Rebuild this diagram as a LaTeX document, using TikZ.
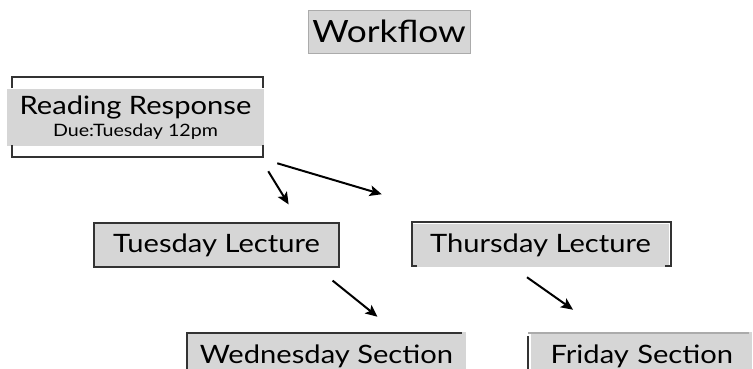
\documentclass[tikz,border=0pt]{standalone}
\usepackage{fontspec}
\setmainfont[FakeStretch=1.15]{Lato}
\usetikzlibrary{arrows.meta,calc}
\definecolor{boxgray}{HTML}{D6D6D6}
\definecolor{edgedark}{HTML}{333333}
\definecolor{edgelight}{HTML}{ABABAB}
\tikzset{
  card/.style={fill=boxgray, inner sep=0pt, font=\fontsize{19}{22}\selectfont},
  arr/.style={-{Stealth[length=9pt,width=8pt,inset=2pt]}, line width=1.5pt},
  frame/.style={draw=edgedark, line width=0.9pt}
}
\begin{document}
\begin{tikzpicture}[x=0.75pt,y=-0.75pt]
  \clip (0,0) rectangle (753,368);
  % title
  \node[card, draw=edgelight, line width=0.6pt, minimum width=121.5pt, minimum height=32.25pt,
        font=\fontsize{23}{26}\selectfont] (wf) at (389,31.5) {Workflow};
  % reading response, bracket frame round it
  \node[card, minimum width=192.75pt, minimum height=42.75pt, align=center] (rr) at (135.5,117.5)
    {Reading Response\\[-5.5pt]{\fontsize{12.8}{15}\selectfont Due:Tuesday 12pm}};
  \draw[frame] (12,88) |- (263,77) -- (263,88);
  \draw[frame] (12,145) |- (263,157) -- (263,145);
  % lectures
  \node[card, frame, minimum width=183.75pt, minimum height=33pt] (tl) at (216.5,245) {Tuesday Lecture};
  \node[card, minimum width=192.75pt, minimum height=32.25pt] (th) at (540.5,245) {Thursday Lecture};
  \draw[frame] (417,266) -| (412,222) -| (671,266) -- (665,266);
  % sections
  \node[card, minimum width=209.25pt, minimum height=36pt] (wd) at (326.5,356) {Wednesday Section};
  \draw[frame] (187,380) |- (462,333);
  \node[card, minimum width=165.75pt, minimum height=36pt, text width=165.75pt, align=center,
        xshift=2.5pt] (fr) at (638.5,356) {Friday Section};
  \draw[draw=edgelight, line width=0.9pt] (749,333) -- (528,333);
  \draw[frame] (528,336) -- (528,380);
  % arrows
  \draw[arr] ($(rr.south east)+(4,25)$) -- ($(tl.north east)+(-51,-18)$);
  \draw[arr] ($(rr.south east)+(13,17)$) -- ($(th.north west)+(-30,-29)$);
  \draw[arr] ($(tl.south east)+(-7,13)$) -- ($(wd.north)+(51,-15)$);
  \draw[arr] ($(th.south)+(-13.5,10.5)$) -- ($(fr.north west)+(42,-22)$);
\end{tikzpicture}
\end{document}
